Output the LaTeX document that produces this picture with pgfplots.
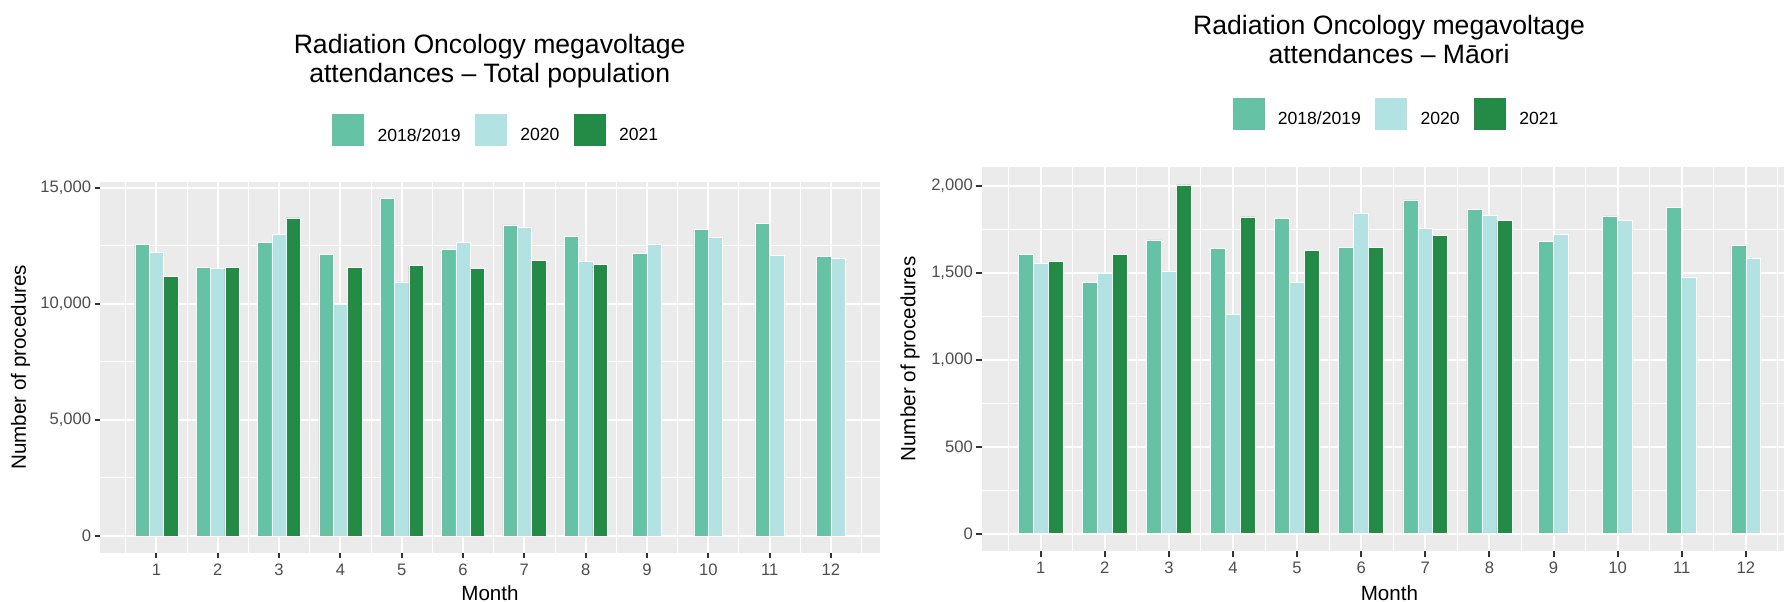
\documentclass[border=0pt]{standalone}
\usepackage{pgfplots}
\pgfplotsset{compat=1.18}
\usepackage{fontspec}
\setmainfont{Liberation Sans}
\definecolor{cA}{HTML}{66C2A5}
\definecolor{cB}{HTML}{B3E2E2}
\definecolor{cC}{HTML}{238B45}
\definecolor{panel}{HTML}{EBEBEB}
\definecolor{tickc}{HTML}{333333}
\definecolor{labc}{HTML}{4D4D4D}

\pgfplotsset{
  mybar/.style={ybar, bar width=0.2333, draw=white, line width=0.3pt,
    legend image code/.code={\path[##1] (0pt,-5.1pt) rectangle (16.5pt,11.4pt);}},
  ggstyle/.style={
  scale only axis, anchor=south west,
  /pgf/number format/assume math mode=true,
  axis background/.style={fill=panel},
  axis line style={draw=none},
  xtick={1,...,12},
  minor xtick={0.5,1.5,...,12.5},
  grid=both,
  major grid style={white, line width=1pt},
  minor grid style={white, line width=0.5pt},
  tick align=outside, xtick pos=lower, ytick pos=left,
  major tick length=2.75pt, minor tick length=0pt,
  major tick style={tickc, line width=1pt},
  tick label style={font=\fontsize{8.3}{10}\selectfont, text=labc},
  xticklabel style={inner sep=2.5pt},
  yticklabel style={inner sep=1.5pt},
  label style={font=\fontsize{10.3}{12}\selectfont},
  xlabel={Month},
  xlabel style={at={(axis description cs:0.5,-0.1275)}, anchor=base},
  ylabel={Number of procedures},
  scaled y ticks=false,
  legend columns=3,
  legend style={draw=none, fill=none, font=\fontsize{8.8}{10}\selectfont, anchor=center,
     nodes={inner sep=0pt},
     /tikz/every odd column/.append style={column sep=6.3pt},
     /tikz/every even column/.append style={column sep=6.7pt}},
  xmin=0.08, xmax=12.8,
}}

\begin{document}
\begin{tikzpicture}
\path[use as bounding box] (0,0) rectangle (892pt,300.5pt);

\node[anchor=base, font=\fontsize{13.3}{16}\selectfont] at (244.85pt,273.85pt) {Radiation Oncology megavoltage};
\node[anchor=base, font=\fontsize{13.3}{16}\selectfont] at (244.85pt,259.15pt) {attendances – Total population};
\node[anchor=base, font=\fontsize{13.3}{16}\selectfont] at (694.5pt,283.35pt) {Radiation Oncology megavoltage};
\node[anchor=base, font=\fontsize{13.3}{16}\selectfont] at (694.5pt,268.5pt) {attendances – Māori};

\begin{axis}[ggstyle,
  at={(50pt,24.15pt)}, width=390pt, height=185.5pt,
  ymin=-727, ymax=15270,
  ytick={0,5000,10000,15000}, yticklabels={0,{5,000},{10,000},{15,000}},
  minor ytick={2500,7500,12500},
  ylabel style={at={(axis description cs:-0.1017,0.5)}, anchor=center},
  legend style={at={(axis description cs:0.5062,1.1394)}},
]
\addplot[mybar, fill=cA, bar shift=-0.2333] coordinates {(1,12550) (2,11580) (3,12640) (4,12140) (5,14540) (6,12350) (7,13410) (8,12910)};
\addlegendentry{2018/2019}
\addplot[mybar, fill=cB, bar shift=0] coordinates {(1,12220) (2,11530) (3,13000) (4,9990) (5,10950) (6,12640) (7,13300) (8,11820)};
\addlegendentry{2020}
\addplot[mybar, fill=cC, bar shift=0.2333] coordinates {(1,11180) (2,11580) (3,13710) (4,11580) (5,11660) (6,11530) (7,11890) (8,11710)};
\addlegendentry{2021}
\addplot[mybar, fill=cA, bar shift=-0.1167, forget plot] coordinates {(9,12180) (10,13210) (11,13470) (12,12040)};
\addplot[mybar, fill=cB, bar shift=0.1167, forget plot] coordinates {(9,12550) (10,12880) (11,12080) (12,11960)};
\end{axis}

\begin{axis}[ggstyle,
  at={(490.85pt,25pt)}, width=407.7pt, height=192.15pt,
  ymin=-100.5, ymax=2110.5,
  ytick={0,500,1000,1500,2000}, yticklabels={0,500,{1,000},{1,500},{2,000}},
  minor ytick={250,750,1250,1750},
  ylabel style={at={(axis description cs:-0.0879,0.5)}, anchor=center},
  legend style={at={(axis description cs:0.5069,1.1379)}},
]
\addplot[mybar, fill=cA, bar shift=-0.2333] coordinates {(1,1606) (2,1446) (3,1689) (4,1641) (5,1815) (6,1647) (7,1920) (8,1865)};
\addlegendentry{2018/2019}
\addplot[mybar, fill=cB, bar shift=0] coordinates {(1,1555) (2,1500) (3,1509) (4,1261) (5,1444) (6,1842) (7,1756) (8,1832)};
\addlegendentry{2020}
\addplot[mybar, fill=cC, bar shift=0.2333] coordinates {(1,1564) (2,1608) (3,2006) (4,1822) (5,1629) (6,1647) (7,1716) (8,1802)};
\addlegendentry{2021}
\addplot[mybar, fill=cA, bar shift=-0.1167, forget plot] coordinates {(9,1682) (10,1827) (11,1876) (12,1657)};
\addplot[mybar, fill=cB, bar shift=0.1167, forget plot] coordinates {(9,1720) (10,1800) (11,1476) (12,1581)};
\end{axis}
\end{tikzpicture}
\end{document}
